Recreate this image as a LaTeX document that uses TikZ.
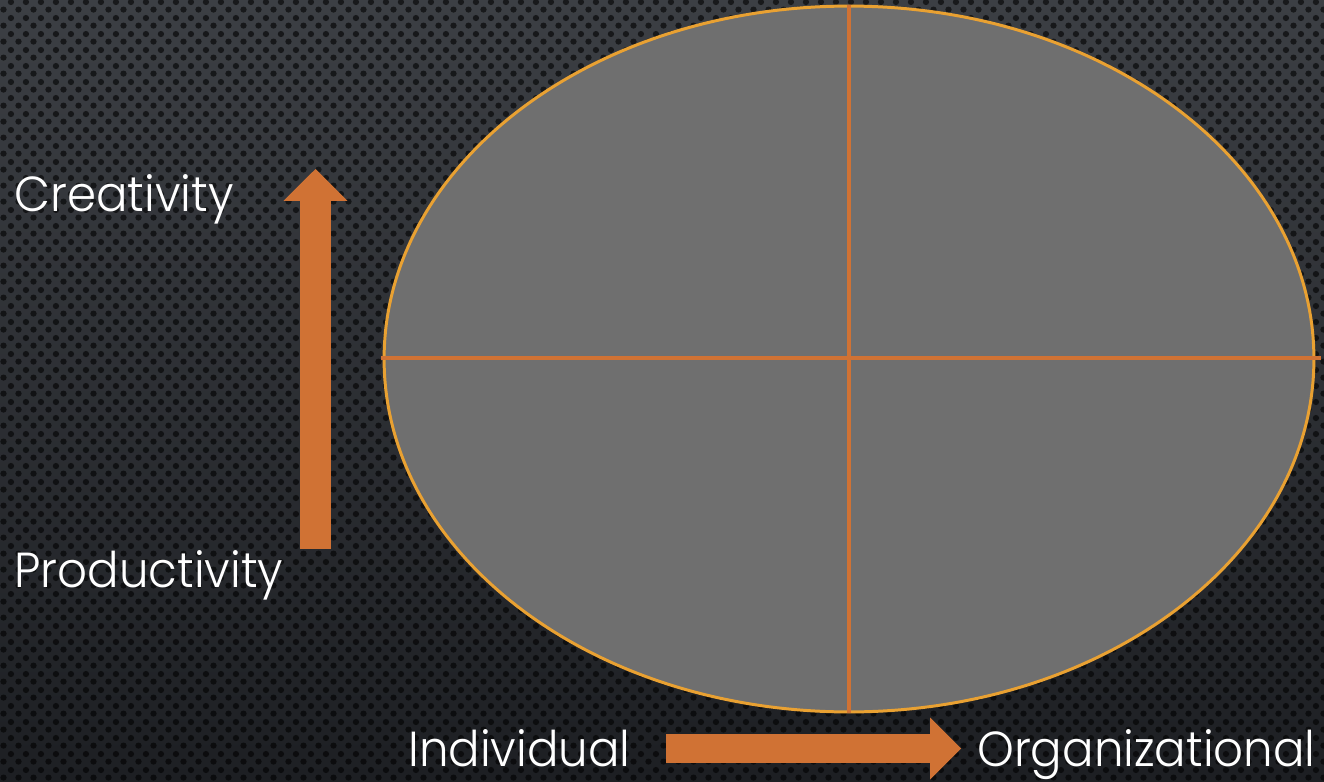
\documentclass[tikz,border=0pt]{standalone}
\usepackage{fontspec}
\setmainfont{Poppins}[UprightFont=* Light, FakeStretch=0.95]
\usetikzlibrary{arrows.meta, shapes.geometric, patterns}
\definecolor{bgtop}{RGB}{60,63,68}
\definecolor{bgbottom}{RGB}{29,31,35}
\definecolor{ovalgray}{RGB}{111,111,111}
\definecolor{rim}{RGB}{233,161,50}
\definecolor{rust}{RGB}{208,114,52}
\pgfdeclarepatternformonly{dotgrid}{\pgfpointorigin}{\pgfpoint{8.505pt}{8.845pt}}{\pgfpoint{8.505pt}{8.845pt}}{
	\pgfpathcircle{\pgfpoint{2pt}{2pt}}{1.8pt}
	\pgfpathcircle{\pgfpoint{6.25pt}{6.42pt}}{1.8pt}
	\pgfusepath{fill}
}
\tikzset{
	caption/.style={text=white, font=\fontsize{28}{32}\selectfont, inner sep=0pt},
	dots/.style={pattern=dotgrid, pattern color=black, fill opacity=0.6},
	axisline/.style={draw=rust, line width=2pt},
	blockarrow/.style={draw=rust, line width=17.6pt, -{Triangle[width=36.3pt, length=18.1pt, line width=0pt]}},
}

\begin{document}
\begin{tikzpicture}[x=0.02cm, y=-0.02cm]
	% background with dots
	\shade[top color=bgtop, bottom color=bgbottom] (0,0) rectangle (1324,781);
	\fill[dots] (0,0) rectangle (1324,781);
	\useasboundingbox (0,0) rectangle (1324,781);

	% quadrant oval
	\node[ellipse, draw=rim, fill=ovalgray, line width=1.7pt, minimum width=18.6cm, minimum height=14.12cm, inner sep=0pt] (oval) at (849,359) {};
	\coordinate (hleft) at (381,358);
	\coordinate (hright) at (1321,358);
	\draw[axisline] (oval.north) -- (oval.south);
	\draw[axisline] (hleft) -- (hright);

	% labels
	\node[caption, anchor=base west] (creativity) at (14,211) {Creativity};
	\node[caption, anchor=base west] (productivity) at (14,587) {Productivity};
	\node[caption, anchor=base west] (individual) at (408,766) {Individual};
	\node[caption, anchor=base east] (organizational) at (1316,766) {Organizational};

	% block arrows
	\coordinate (upfoot) at (315.5,549);
	\coordinate (uptip) at (315.5,169);
	\draw[blockarrow] (upfoot) -- (uptip);
	\coordinate (rightfoot) at (666,748.5);
	\coordinate (righttip) at (961,748.5);
	\draw[blockarrow, line width=16.4pt, -{Triangle[width=35.2pt, length=17.6pt, line width=0pt]}] (rightfoot) -- (righttip);
\end{tikzpicture}
\end{document}
